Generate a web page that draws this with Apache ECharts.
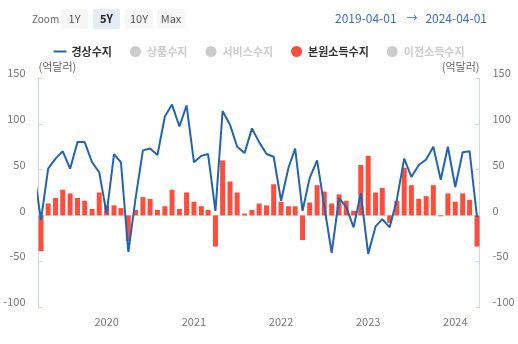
<!DOCTYPE html>
<html><head><meta charset="utf-8">
<script src="https://cdn.jsdelivr.net/npm/echarts@6/dist/echarts.min.js"></script>
<style>html,body{margin:0;padding:0;background:#fff}#c{width:518px;height:344px}</style>
</head><body><div id="c"></div>
<script>
const months = [
 '2019-03','2019-04','2019-05','2019-06','2019-07','2019-08','2019-09','2019-10','2019-11','2019-12',
 '2020-01','2020-02','2020-03','2020-04','2020-05','2020-06','2020-07','2020-08','2020-09','2020-10','2020-11','2020-12',
 '2021-01','2021-02','2021-03','2021-04','2021-05','2021-06','2021-07','2021-08','2021-09','2021-10','2021-11','2021-12',
 '2022-01','2022-02','2022-03','2022-04','2022-05','2022-06','2022-07','2022-08','2022-09','2022-10','2022-11','2022-12',
 '2023-01','2023-02','2023-03','2023-04','2023-05','2023-06','2023-07','2023-08','2023-09','2023-10','2023-11','2023-12',
 '2024-01','2024-02','2024-03','2024-04'
];
// 경상수지 (억달러)
const currentAccount = [
 50,-5,51,62,70,51,80,80,58,47,
 2,67,58,-40,18,71,73,66,108,121,97,120,
 58,65,67,5,114,99,75,68,95,80,67,64,
 16,52,73,5,41,60,10,-41,19,9,-13,24,
 -42,-12,-4,-13,17,62,42,55,61,75,39,75,
 31,69,70,-2
];
// 본원소득수지 (억달러) — 2019-03 lies outside the visible window
const primaryIncome = [
 null,-39,13,19,28,24,19,16,7,25,
 11,11,8,-28,6,20,18,6,10,28,7,25,
 15,10,6,-34,60,37,25,2,6,13,11,34,
 15,10,10,-27,14,33,26,13,23,16,5,55,
 65,25,30,-8,16,52,33,18,21,33,-1,24,
 15,24,17,-34
];
const legendNames = ['경상수지','상품수지','서비스수지','본원소득수지','이전소득수지'];
const rangeStart = '2019-04-01';
const rangeEnd = '2024-04-01';
const zoomButtons = ['1Y','5Y','10Y','Max'];
const yMin = -100, yMax = 150, yStep = 50;
const unitLabel = '(억달러)';

const FONT = "'Noto Sans CJK KR','Noto Sans',sans-serif";
const toDate = m => m + '-01';
const lineData = months.map((m,i)=>[toDate(m), currentAccount[i]]);
const barData = months.map((m,i)=>[toDate(m), primaryIncome[i]]);

const axisColor = '#ccd6eb';
const labelColor = '#777';

function yAxisCfg(pos){
  return {
    type:'value', position:pos, min:yMin, max:yMax, interval:yStep,
    name: unitLabel, nameLocation:'end', nameGap:11,
    nameTextStyle:{color:'#666', fontSize:11, fontFamily:FONT, align: pos==='left'?'left':'right', verticalAlign:'middle'},
    axisLine:{show:true, lineStyle:{color:axisColor}},
    axisTick:{show:true, inside:true, length:4, lineStyle:{color:axisColor}},
    splitLine:{show:false},
    axisLabel:{color:labelColor, fontSize:11, fontFamily:FONT, margin:13, verticalAlign:'bottom', lineHeight:10}
  };
}

const graphics = [];
graphics.push({type:'text', x:32, y:19, style:{text:'Zoom', fill:'#666', font:'10px '+FONT, align:'left', verticalAlign:'middle'}});
const btnX = [61, 93, 125, 157];
const btnW = [27, 27, 28, 28];
zoomButtons.forEach((b,i)=>{
  const active = b==='5Y';
  graphics.push({type:'rect', shape:{x:btnX[i], y:9, width:btnW[i], height:20, r:2}, style:{fill: active?'#e6ebf5':'#f7f7f7'}});
  graphics.push({type:'text', x:btnX[i]+btnW[i]/2, y:19, style:{text:b, fill: active?'#222':'#555', font:(active?'bold ':'')+'11px '+FONT, align:'center', verticalAlign:'middle'}});
});
graphics.push({type:'text', x:335, y:18, style:{text:rangeStart, fill:'#3a6cc4', font:'12px '+FONT, align:'left', verticalAlign:'middle'}});
graphics.push({type:'text', x:412, y:18, style:{text:'→', fill:'#3a6cc4', font:'11px '+FONT, align:'center', verticalAlign:'middle'}});
graphics.push({type:'text', x:487, y:18, style:{text:rangeEnd, fill:'#3a6cc4', font:'12px '+FONT, align:'right', verticalAlign:'middle'}});

const chart = echarts.init(document.getElementById('c'), null, {renderer:'canvas'});
chart.setOption({
  animation:false,
  backgroundColor:'#fff',
  textStyle:{fontFamily:FONT},
  graphic:graphics,
  legend:{
    top:41, left:'center', itemWidth:13, itemHeight:11, itemGap:18,
    symbolKeepAspect:true,
    textStyle:{color:'#333', fontSize:11, fontWeight:'bold', fontFamily:FONT},
    inactiveColor:'#ccc',
    data:[
      {name:legendNames[0], icon:'path://M0,0 L13,0 L13,2 L0,2 Z'},
      {name:legendNames[1], icon:'circle'},
      {name:legendNames[2], icon:'circle'},
      {name:legendNames[3], icon:'circle'},
      {name:legendNames[4], icon:'circle'}
    ],
    selected:{[legendNames[1]]:false,[legendNames[2]]:false,[legendNames[4]]:false}
  },
  grid:{left:38.5, right:38.5, top:78, bottom:37, containLabel:false},
  xAxis:{
    type:'time', min:rangeStart, max:rangeEnd, splitNumber:5,
    minInterval:365*24*3600*1000,
    axisLine:{show:true, lineStyle:{color:axisColor}},
    axisTick:{show:true, inside:true, length:4, lineStyle:{color:axisColor}},
    splitLine:{show:false},
    axisLabel:{color:labelColor, fontSize:11, fontFamily:FONT, margin:9,
      formatter: v => { const d=new Date(v); return d.getMonth()===0 ? String(d.getFullYear()) : ''; },
      showMinLabel:false, showMaxLabel:false}
  },
  yAxis:[yAxisCfg('left'), yAxisCfg('right')],
  series:[
    {name:legendNames[0], type:'line', data:lineData, symbol:'none', showSymbol:false, z:5, clip:true,
      lineStyle:{color:'#2264b4', width:2}, itemStyle:{color:'#2264b4'}},
    {name:legendNames[1], type:'bar', data:[], itemStyle:{color:'#999'}},
    {name:legendNames[2], type:'bar', data:[], itemStyle:{color:'#999'}},
    {name:legendNames[3], type:'bar', data:barData, barWidth:5, z:2, clip:true,
      itemStyle:{color:'#ff4d3c'},
      markLine:{silent:true, symbol:'none', label:{show:false}, lineStyle:{color:'#e6e6e6', width:1, type:'solid'}, data:[{yAxis:0}], z:1}},
    {name:legendNames[4], type:'bar', data:[], itemStyle:{color:'#999'}}
  ]
});
</script>
</body></html>
